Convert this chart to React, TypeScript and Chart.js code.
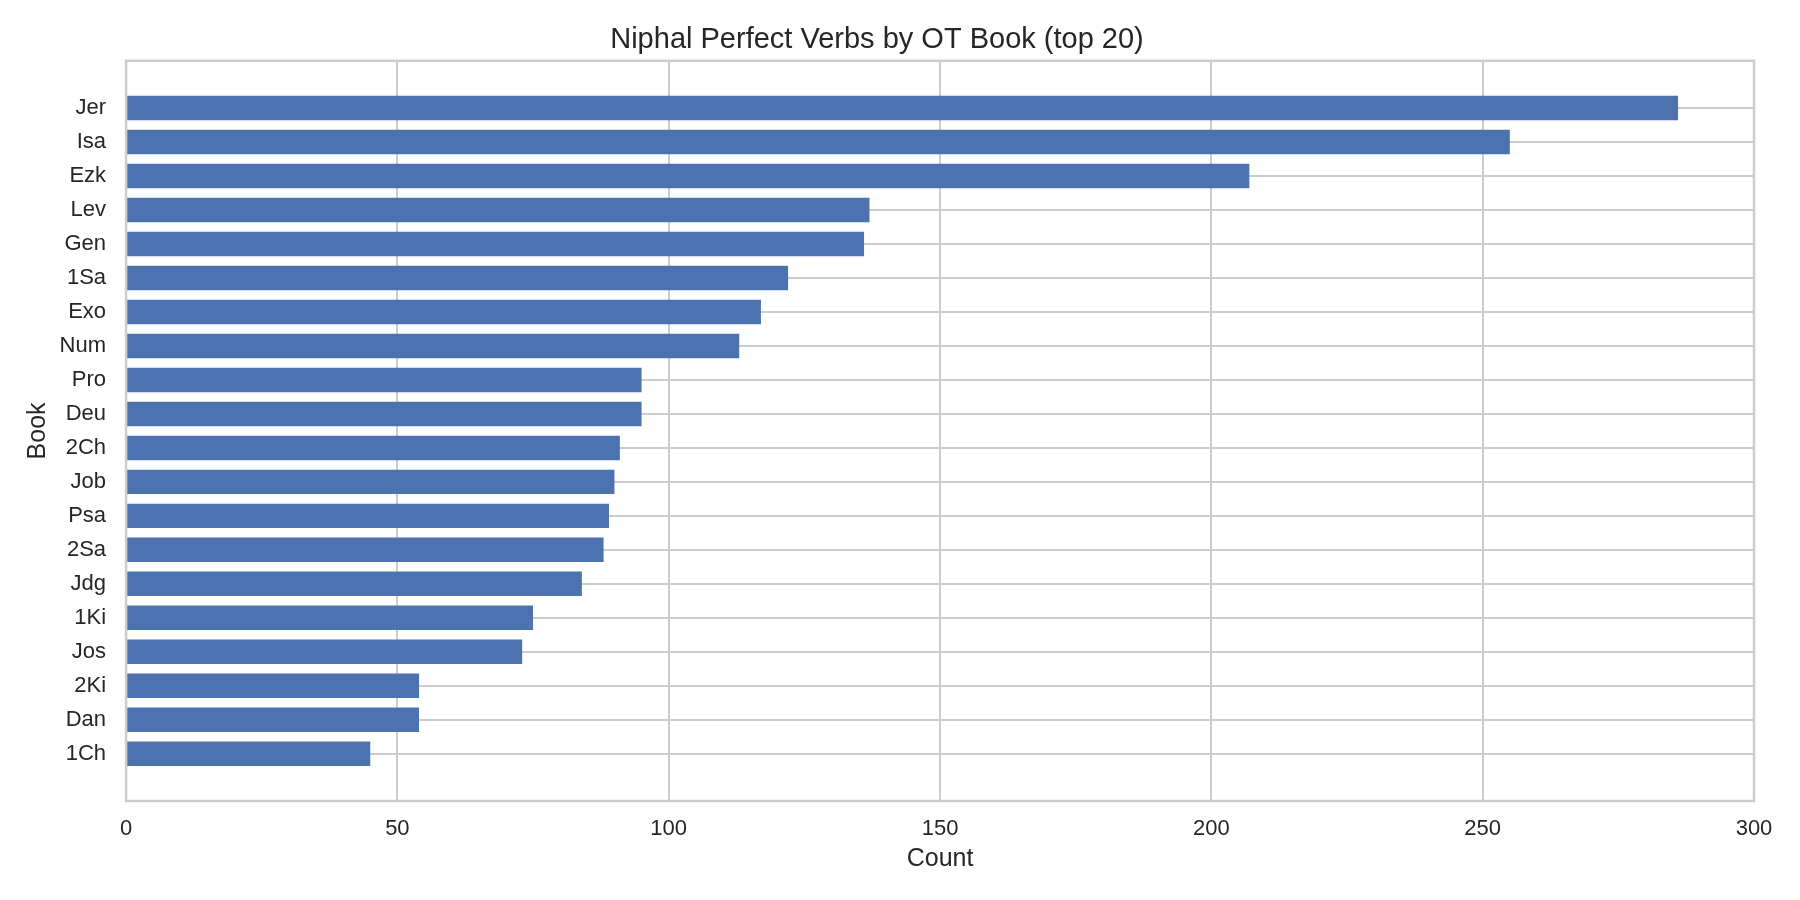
import { useEffect, useRef } from 'react';
import Chart from 'chart.js/auto';

// top 20 OT books by number of Niphal perfect verbs
const BOOKS = [
  'Jer', 'Isa', 'Ezk', 'Lev', 'Gen', '1Sa', 'Exo', 'Num', 'Pro', 'Deu',
  '2Ch', 'Job', 'Psa', '2Sa', 'Jdg', '1Ki', 'Jos', '2Ki', 'Dan', '1Ch',
];
const COUNTS = [
  286, 255, 207, 137, 136, 122, 117, 113, 95, 95,
  91, 90, 89, 88, 84, 75, 73, 54, 54, 45,
];
const X_TICKS = [0, 50, 100, 150, 200, 250, 300];

const TEXT = '#262626';
const GRID = '#cccccc';
const BAR = '#4c72b0';

// draws the four light-grey spines on top of the bars, like seaborn's whitegrid
const frame = {
  id: 'frame',
  afterDatasetsDraw(chart: Chart) {
    const { ctx, chartArea: a } = chart;
    ctx.save();
    ctx.strokeStyle = GRID;
    ctx.lineWidth = 2.5;
    ctx.strokeRect(a.left, a.top, a.right - a.left, a.bottom - a.top);
    ctx.restore();
  },
};

const NiphalChart = () => {
  const canvasRef = useRef<HTMLCanvasElement>(null);
  const chartRef = useRef<Chart | null>(null);

  useEffect(() => {
    if (!canvasRef.current) return;
    if (chartRef.current) chartRef.current.destroy();

    Chart.defaults.font.family = '"Liberation Sans", Arial, sans-serif';
    Chart.defaults.color = TEXT;

    chartRef.current = new Chart(canvasRef.current, {
      type: 'bar',
      data: {
        datasets: [{
          data: COUNTS.map((v, i) => ({ x: v, y: i })),
          backgroundColor: BAR,
          borderWidth: 0,
          categoryPercentage: 1,
          barPercentage: 0.72,
        }],
      },
      options: {
        indexAxis: 'y',
        animation: false,
        responsive: true,
        maintainAspectRatio: false,
        layout: { padding: { left: 0, right: 46, top: 0, bottom: 0 } },
        plugins: {
          legend: { display: false },
          tooltip: { enabled: false },
          title: {
            display: true,
            text: 'Niphal Perfect Verbs by OT Book (top 20)',
            color: TEXT,
            font: { size: 29, weight: 'normal' },
            padding: { top: 23, bottom: 3 },
          },
        },
        scales: {
          x: {
            type: 'linear',
            min: 0,
            max: 300,
            afterBuildTicks: (scale) => {
              scale.ticks = X_TICKS.map(v => ({ value: v }));
            },
            ticks: { font: { size: 22 }, padding: 15, color: TEXT },
            grid: { color: GRID, lineWidth: 2, drawTicks: false },
            border: { display: false },
            title: {
              display: true,
              text: 'Count',
              color: TEXT,
              font: { size: 25 },
              padding: { top: -13.4, bottom: 26 },
            },
          },
          y: {
            type: 'linear',
            reverse: true,
            offset: false,
            min: -1.39,
            max: BOOKS.length - 1 + 1.39,
            afterBuildTicks: (scale) => {
              scale.ticks = BOOKS.map((_, i) => ({ value: i }));
            },
            ticks: {
              font: { size: 22 },
              padding: 20,
              color: TEXT,
              autoSkip: false,
              callback: (value) => BOOKS[value as number],
            },
            grid: { color: GRID, lineWidth: 2, drawTicks: false, offset: false },
            border: { display: false },
            title: {
              display: true,
              text: 'Book',
              color: TEXT,
              font: { size: 25 },
              padding: { top: 23.5, bottom: -13.9 },
            },
          },
        },
      },
      plugins: [frame],
    });

    return () => {
      if (chartRef.current) {
        chartRef.current.destroy();
        chartRef.current = null;
      }
    };
  }, []);

  return (
    <div style={{ position: 'absolute', left: 0, top: 0, width: 1800, height: 900, background: '#fff' }}>
      <canvas ref={canvasRef} />
    </div>
  );
};

export default function App() {
  return <NiphalChart />;
}
